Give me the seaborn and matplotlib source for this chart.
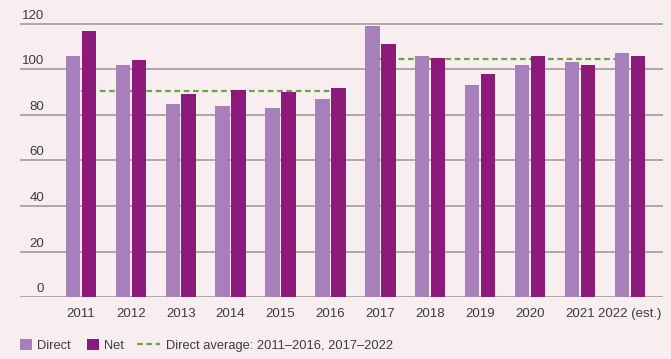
import pandas as pd
import matplotlib.pyplot as plt
import matplotlib.transforms as mtransforms
from matplotlib.lines import Line2D
from matplotlib.patches import Patch
import seaborn as sns

# --------------------
# Data
# --------------------
years = ['2011', '2012', '2013', '2014', '2015', '2016',
         '2017', '2018', '2019', '2020', '2021', '2022 (est.)']
direct = [106, 102, 85, 84, 83, 87, 119, 106, 93, 102, 103, 107]
net = [117, 104, 89, 91, 90, 92, 111, 105, 98, 106, 102, 106]
avg_first = 90.6    # direct average 2011-2016
avg_second = 104.5  # direct average 2017-2022
y_ticks = [0, 20, 40, 60, 80, 100, 120]

df = pd.DataFrame({
    'Year': years * 2,
    'Value': direct + net,
    'Type': ['Direct'] * len(years) + ['Net'] * len(years),
})

# --------------------
# Style
# --------------------
bg = '#f8eef0'
c_direct = '#a77fba'
c_net = '#8b1a7a'
c_avg = '#6fa34b'
c_grid = '#9a9496'
c_text = '#3c3c3c'
avg_ls = (0, (2.6, 1.6))

sns.set_theme(style='white')
plt.rcParams['font.family'] = ['Liberation Sans', 'DejaVu Sans']
plt.rcParams['font.size'] = 9.5

fig = plt.figure(figsize=(6.71, 3.59), dpi=100, facecolor=bg)
ax = fig.add_axes([0.0298, 0.172, 0.958, 0.800], facecolor=bg)

for t in y_ticks:
    ax.axhline(t, color=c_grid, lw=1.1, zorder=0)

sns.barplot(data=df, x='Year', y='Value', hue='Type', order=years,
            hue_order=['Direct', 'Net'], palette=[c_direct, c_net],
            width=0.64, gap=0.1, saturation=1, linewidth=0,
            ax=ax, zorder=2)

# averages, drawn behind the bars
ax.plot([0, 5], [avg_first] * 2, color=c_avg, lw=1.6, ls=avg_ls, zorder=1)
ax.plot([6, 11], [avg_second] * 2, color=c_avg, lw=1.6, ls=avg_ls, zorder=1)

ax.set_xlim(-1.22, 11.66)
ax.set_ylim(0, 126)
ax.set_xlabel('')
ax.set_ylabel('')
ax.set_yticks([])
ax.tick_params(axis='x', length=0, pad=8, labelsize=9.5, labelcolor=c_text)
for s in ax.spines.values():
    s.set_visible(False)

# y labels sit above the gridlines
trans = mtransforms.blended_transform_factory(ax.transAxes, ax.transData)
for t in y_ticks:
    ax.annotate(str(t), xy=(0.0373, t), xycoords=trans, xytext=(0, 1.5),
                textcoords='offset points', ha='right', va='bottom',
                fontsize=9.5, color=c_text)

# --------------------
# Legend (two pieces so the squares and the dashed line get their own widths)
# --------------------
ax.get_legend().remove()
bar_handles = [Patch(color=c_direct, lw=0), Patch(color=c_net, lw=0)]
leg1 = fig.legend(bar_handles, ['Direct', 'Net'], loc='center left',
                  bbox_to_anchor=(0.0298, 0.037), ncol=2, frameon=False,
                  borderpad=0, borderaxespad=0, handlelength=0.93,
                  handleheight=0.93, handletextpad=0.39, columnspacing=1.24,
                  fontsize=9.3, labelcolor=c_text)
avg_handle = [Line2D([], [], color=c_avg, lw=1.6, ls=avg_ls)]
fig.legend(avg_handle, ['Direct average: 2011\u20132016, 2017\u20132022'],
           loc='center left', bbox_to_anchor=(0.204, 0.037), frameon=False,
           borderpad=0, borderaxespad=0, handlelength=1.78,
           handletextpad=0.46, fontsize=9.3, labelcolor=c_text)

plt.savefig('out.png', dpi=100, facecolor=bg)
